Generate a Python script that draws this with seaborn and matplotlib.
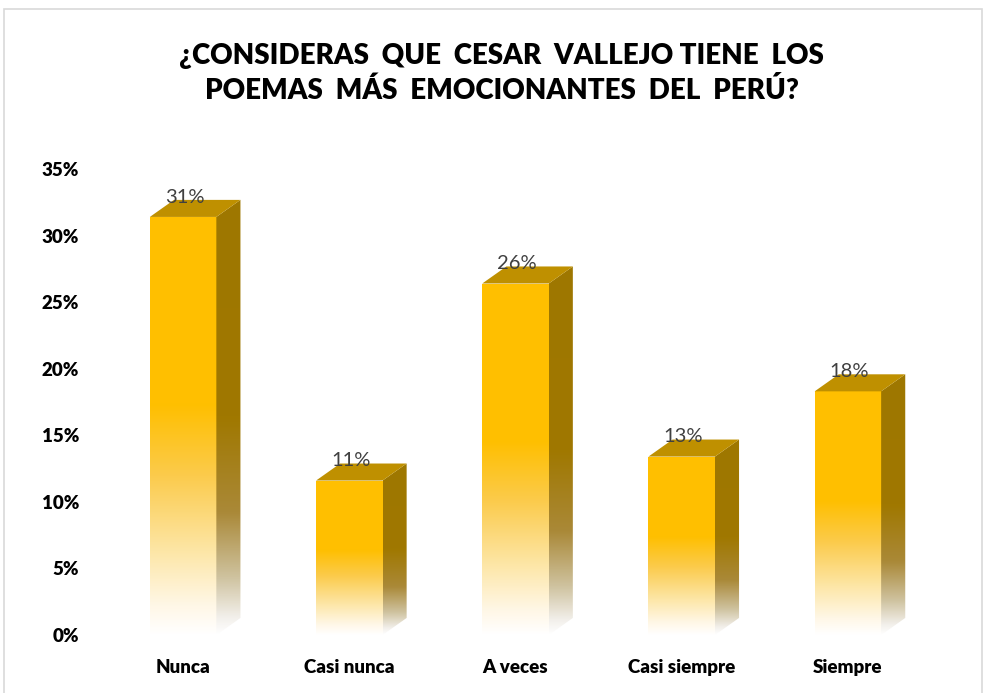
import numpy as np
import pandas as pd
import matplotlib
matplotlib.use("Agg")
import matplotlib.pyplot as plt
import seaborn as sns
from matplotlib.colors import LinearSegmentedColormap
from matplotlib.patches import Polygon, Rectangle

# Datos de la encuesta
categories = ["Nunca", "Casi nunca", "A veces", "Casi siempre", "Siempre"]
values = [0.314, 0.116, 0.264, 0.134, 0.183]
value_labels = ["31%", "11%", "26%", "13%", "18%"]
y_ticks = [0, 0.05, 0.10, 0.15, 0.20, 0.25, 0.30, 0.35]
y_tick_labels = ["0%", "5%", "10%", "15%", "20%", "25%", "30%", "35%"]

title = "¿CONSIDERAS  QUE  CESAR  VALLEJO TIENE  LOS\nPOEMAS  MÁS  EMOCIONANTES  DEL  PERÚ?"

sns.set_style("white")
plt.rcParams["font.family"] = ["Lato", "DejaVu Sans"]

fig = plt.figure(figsize=(9.86, 6.93), dpi=100)
ax = fig.add_axes([100 / 986, 58 / 693, 831 / 986, 466 / 693])

df = pd.DataFrame({"respuesta": categories, "porcentaje": values})
sns.barplot(data=df, x="respuesta", y="porcentaje", color="#FFC000",
            saturation=1, width=0.40, ax=ax)

# degradados (cara frontal y lateral)
front_cmap = LinearSegmentedColormap.from_list(
    "front", [(0.0, "#FFC000"), (0.45, "#FFBF00"), (0.62, "#FBCB4C"),
              (0.80, "#FDE6A6"), (0.93, "#FFF7E6"), (1.0, "#FFFFFF")])
side_cmap = LinearSegmentedColormap.from_list(
    "side", [(0.0, "#9E7700"), (0.50, "#A07800"), (0.72, "#AA8938"),
             (0.87, "#CFC3A0"), (0.96, "#F2EFEA"), (1.0, "#FFFFFF")])
top_color = "#BF9000"

dx = 0.145   # profundidad en unidades de x
dy = 0.0128  # profundidad en unidades de y
grad = np.linspace(0, 1, 256).reshape(-1, 1)

for p, lab in zip(list(ax.patches), value_labels):
    x0 = p.get_x()
    w = p.get_width()
    h = p.get_height()
    x1 = x0 + w

    im = ax.imshow(grad, cmap=front_cmap, extent=(x0, x1, 0, h),
                   origin="upper", aspect="auto", zorder=2)
    im.set_clip_path(p)
    p.set_facecolor("none")
    p.set_edgecolor("none")

    side = Polygon([(x1, 0), (x1, h), (x1 + dx, h + dy), (x1 + dx, dy)],
                   closed=True, facecolor="none", edgecolor="none")
    ax.add_patch(side)
    im2 = ax.imshow(grad, cmap=side_cmap, extent=(x1, x1 + dx, 0, h + dy),
                    origin="upper", aspect="auto", zorder=2)
    im2.set_clip_path(side)

    top = Polygon([(x0, h), (x1, h), (x1 + dx, h + dy), (x0 + dx, h + dy)],
                  closed=True, facecolor=top_color, edgecolor="none", zorder=3)
    ax.add_patch(top)

    ax.text(x0 + w / 2 + 0.01, h + dy - 0.002, lab, ha="center", va="baseline",
            fontsize=14.5, color="#404040", zorder=4)

ax.set_xlim(-0.5, 4.5)
ax.set_ylim(0, 0.35)
ax.set_yticks(y_ticks)
ax.set_yticklabels(y_tick_labels, fontsize=13.5, fontweight="heavy", color="#000000")
ax.set_xticks(range(len(categories)))
ax.set_xticklabels(categories, fontsize=13.5, fontweight="heavy", color="#000000")
ax.tick_params(axis="y", length=0, pad=15)
ax.tick_params(axis="x", length=0, pad=17)
ax.set_xlabel("")
ax.set_ylabel("")
sns.despine(ax=ax, left=True, bottom=True)

fig.text(0.509, 1 - 43 / 693, title, ha="center", va="top", fontsize=20,
         fontweight="heavy", color="#000000", linespacing=1.38)

# borde del área del gráfico
fig.patches.append(Rectangle((4 / 986, -0.02), 978 / 986, 1.02 - 9 / 693,
                             transform=fig.transFigure, fill=False,
                             edgecolor="#D9D9D9", linewidth=1.2))

fig.savefig("out.png", dpi=100)
